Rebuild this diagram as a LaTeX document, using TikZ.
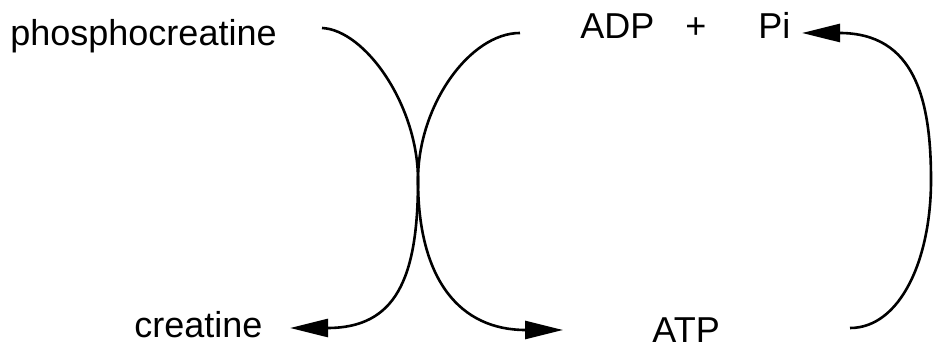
\documentclass[tikz,border=0pt]{standalone}
\usepackage{fontspec}
\setmainfont{Liberation Sans}
\usetikzlibrary{arrows.meta}
\begin{document}
\begin{tikzpicture}[x=0.5pt,y=-0.5pt,
  lbl/.style={anchor=base west,inner sep=0pt,font=\fontsize{18}{21}\selectfont},
  conn/.style={line width=1.3pt},
  arr/.style={conn,-{Triangle[length=19pt,width=9pt]}}]
\useasboundingbox (0,0) rectangle (935,351);
\node[lbl] (pc) at (10,46) {phosphocreatine};
\node[lbl] (cr) at (134,338) {creatine};
\node[lbl] (adp) at (580,39) {ADP};
\node[lbl] (plus) at (685,39) {+};
\node[lbl] (pi) at (758,39) {Pi};
\node[lbl] (atp) at (652,343) {ATP};
\coordinate (s1) at (322,28);
\coordinate (m1) at (418,180);
\coordinate (e1) at (290,328);
\coordinate (s2) at (520,33);
\coordinate (m2) at (418,180);
\coordinate (e2) at (563,330);
\coordinate (s3) at (850,328);
\coordinate (m3) at (931,180);
\coordinate (e3) at (802,33);
\draw[arr] (s1) .. controls (365,30) and (418,105) .. (m1)
               .. controls (418,280) and (395,328) .. (e1);
\draw[arr] (s2) .. controls (470,33) and (418,105) .. (m2)
               .. controls (418,280) and (460,330) .. (e2);
\draw[arr] (s3) .. controls (900,328) and (931,260) .. (m3)
               .. controls (931,100) and (915,33) .. (e3);
\end{tikzpicture}
\end{document}
